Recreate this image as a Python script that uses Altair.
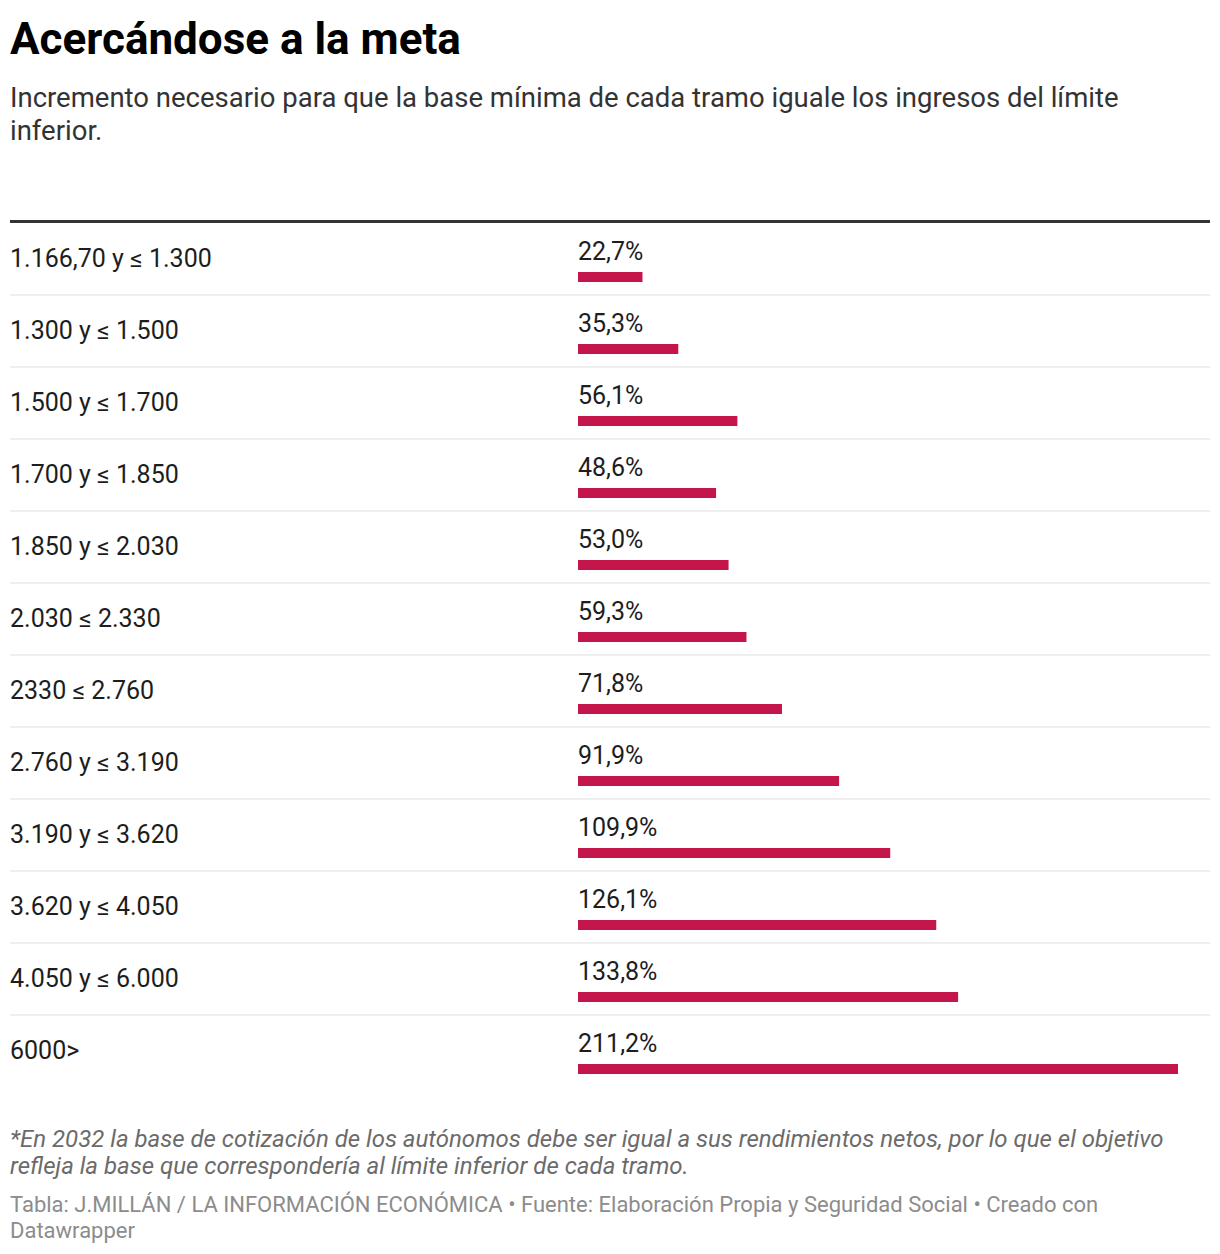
import altair as alt
import pandas as pd

# Income brackets (monthly net earnings, €) and the increase the minimum base needs
tramos = [
    "1.166,70 y ≤ 1.300",
    "1.300 y ≤ 1.500",
    "1.500 y ≤ 1.700",
    "1.700 y ≤ 1.850",
    "1.850 y ≤ 2.030",
    "2.030 ≤ 2.330",
    "2330 ≤ 2.760",
    "2.760 y ≤ 3.190",
    "3.190 y ≤ 3.620",
    "3.620 y ≤ 4.050",
    "4.050 y ≤ 6.000",
    "6000>",
]
incremento = [22.7, 35.3, 56.1, 48.6, 53.0, 59.3, 71.8, 91.9, 109.9, 126.1, 133.8, 211.2]

nota = [
    "*En 2032 la base de cotización de los autónomos debe ser igual a sus rendimientos netos, por lo que el objetivo",
    "refleja la base que correspondería al límite inferior de cada tramo.",
]
fuente = [
    "Tabla: J.MILLÁN / LA INFORMACIÓN ECONÓMICA • Fuente: Elaboración Propia y Seguridad Social  • Creado con",
    "Datawrapper",
]

df = pd.DataFrame({
    "tramo": tramos,
    "valor": incremento,
    "etiqueta": [f"{v:.1f}".replace(".", ",") + "%" for v in incremento],
    "orden": list(range(len(tramos))),
})

W, ROW = 1200, 72
H = ROW * len(tramos)
FONT = "Roboto"
RED = "#c4164a"
TEXT = "#1d1d1d"

band_scale = alt.Scale(paddingInner=0, paddingOuter=0)
y_enc = alt.Y("tramo:N", sort=tramos, axis=None, scale=band_scale)
x_scale = alt.Scale(domain=[0, 211.2], range=[568, 1168], zero=True)

base = alt.Chart(df)

# thin dividers under every row except the last
separators = base.transform_filter(alt.datum.orden < len(tramos) - 1).mark_rule(
    color="#e8e8e8", strokeWidth=1.5
).encode(
    y=alt.Y("tramo:N", sort=tramos, axis=None, bandPosition=1, scale=band_scale),
    x=alt.value(0), x2=alt.value(W),
)

# heavy rule above the first row
top_rule = base.transform_filter(alt.datum.orden == 0).mark_rule(
    color="#333333", strokeWidth=3, yOffset=-1.5
).encode(
    y=alt.Y("tramo:N", sort=tramos, axis=None, bandPosition=0, scale=band_scale),
    x=alt.value(0), x2=alt.value(W),
)

row_labels = base.mark_text(
    align="left", baseline="middle", font=FONT, fontSize=25, color=TEXT, dy=0
).encode(y=y_enc, x=alt.value(0), text="tramo:N")

bars = base.mark_bar(height=10, yOffset=18, color=RED, cornerRadius=0).encode(
    y=y_enc,
    x=alt.X("valor:Q", scale=x_scale, axis=None),
    x2=alt.datum(0),
)

value_labels = base.mark_text(
    align="left", baseline="middle", font=FONT, fontSize=25, color=TEXT, dy=-7.5
).encode(y=y_enc, x=alt.value(568), text="etiqueta:N")

footer_note = alt.Chart(alt.Data(values=[{}])).mark_text(
    align="left", baseline="middle", font=FONT, fontSize=24, fontStyle="italic",
    color="#6b6b6b", lineHeight=27
).encode(x=alt.value(0), y=alt.value(917), text=alt.value(nota))

footer_src = alt.Chart(alt.Data(values=[{}])).mark_text(
    align="left", baseline="middle", font=FONT, fontSize=22, color="#8c8c8c", lineHeight=26
).encode(x=alt.value(0), y=alt.value(982), text=alt.value(fuente))

chart = alt.layer(
    separators, top_rule, bars, row_labels, value_labels, footer_note, footer_src
).properties(
    width=W,
    height=H,
    padding={"left": 10, "right": 10, "top": 223, "bottom": 167},
    autosize=alt.AutoSizeParams(type="none"),
    title=alt.TitleParams(
        text="Acercándose a la meta",
        subtitle=[
            "Incremento necesario para que la base mínima de cada tramo iguale los ingresos del límite",
            "inferior.",
        ],
        anchor="start", frame="group", orient="top",
        font=FONT, fontSize=44, fontWeight="bold", color="#000000",
        subtitleFont=FONT, subtitleFontSize=27.5, subtitleColor="#333333",
        subtitleLineHeight=33, subtitlePadding=22, offset=75,
    ),
).configure_view(stroke=None)

chart.save("out.html", embed_options={"renderer": "svg", "actions": False})
